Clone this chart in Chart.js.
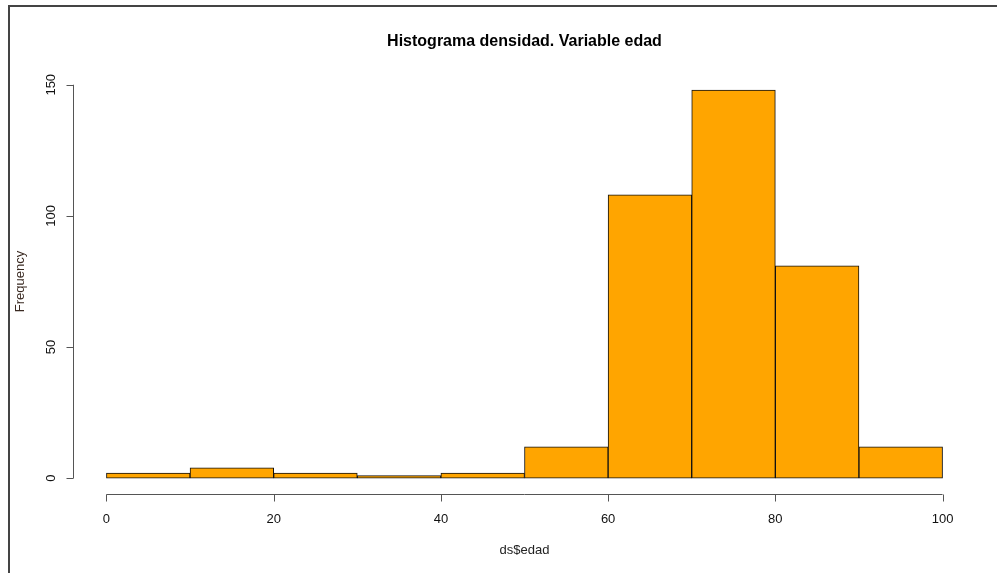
<!DOCTYPE html>
<html>
<head>
<meta charset="utf-8">
<script src="https://cdn.jsdelivr.net/npm/chart.js@4.4.0/dist/chart.umd.min.js"></script>
<style>
  html, body { margin: 0; padding: 0; background: #fff; }
  #wrap { width: 997px; height: 573px; position: relative; }
</style>
</head>
<body>
<div id="wrap"><canvas id="hist"></canvas></div>
<script>
// histogram of ds$edad, bins of width 10
const binStarts = [0, 10, 20, 30, 40, 50, 60, 70, 80, 90];
const binWidth = 10;
const frequencies = [2, 4, 2, 1, 2, 12, 108, 148, 81, 12];
const xTicks = [0, 20, 40, 60, 80, 100];
const yTicks = [0, 50, 100, 150];

const chartTitle = "Histograma densidad. Variable edad";
const xTitle = "ds$edad";
const yTitle = "Frequency";

const barData = binStarts.map((start, i) => ({ x: start + binWidth / 2, y: frequencies[i] }));

const FONT = "'Liberation Sans', Arial, sans-serif";

// R-style axes, titles and frame drawn by hand
const baseAxesPlugin = {
  id: "baseAxes",
  afterDraw(chart) {
    const ctx = chart.ctx;
    const xs = chart.scales.x;
    const ys = chart.scales.y;
    const area = chart.chartArea;

    ctx.save();

    // outer frame (left + top edges)
    ctx.strokeStyle = "#444";
    ctx.lineWidth = 2;
    ctx.beginPath();
    ctx.moveTo(9, 573);
    ctx.lineTo(9, 6);
    ctx.lineTo(997, 6);
    ctx.stroke();

    ctx.strokeStyle = "#555";
    ctx.lineWidth = 1;

    // x axis
    const axisY = Math.round(area.bottom) + 0.5;
    ctx.beginPath();
    ctx.moveTo(xs.getPixelForValue(xTicks[0]), axisY);
    ctx.lineTo(xs.getPixelForValue(xTicks[xTicks.length - 1]), axisY);
    xTicks.forEach((t) => {
      const px = Math.round(xs.getPixelForValue(t)) + 0.5;
      ctx.moveTo(px, axisY);
      ctx.lineTo(px, axisY + 7);
    });
    ctx.stroke();

    ctx.fillStyle = "#111";
    ctx.font = "13px " + FONT;
    ctx.textAlign = "center";
    ctx.textBaseline = "middle";
    xTicks.forEach((t) => {
      ctx.fillText(String(t), xs.getPixelForValue(t), 519);
    });

    // y axis
    const axisX = Math.round(area.left) + 0.5;
    ctx.beginPath();
    ctx.moveTo(axisX, ys.getPixelForValue(yTicks[0]));
    ctx.lineTo(axisX, ys.getPixelForValue(yTicks[yTicks.length - 1]));
    yTicks.forEach((t) => {
      const py = Math.round(ys.getPixelForValue(t)) + 0.5;
      ctx.moveTo(axisX, py);
      ctx.lineTo(axisX - 7, py);
    });
    ctx.stroke();

    yTicks.forEach((t) => {
      ctx.save();
      ctx.translate(51, ys.getPixelForValue(t));
      ctx.rotate(-Math.PI / 2);
      ctx.fillText(String(t), 0, 0);
      ctx.restore();
    });

    // titles
    ctx.fillStyle = "#000";
    ctx.font = "bold 16px " + FONT;
    ctx.fillText(chartTitle, (area.left + area.right) / 2, 42);

    ctx.fillStyle = "#222";
    ctx.font = "13px " + FONT;
    ctx.fillText(xTitle, (area.left + area.right) / 2, 550);

    ctx.save();
    ctx.fillStyle = "#3a2a22";
    ctx.translate(20, (area.top + area.bottom) / 2);
    ctx.rotate(-Math.PI / 2);
    ctx.fillText(yTitle, 0, 0);
    ctx.restore();

    ctx.restore();
  }
};

new Chart(document.getElementById("hist"), {
  type: "bar",
  data: {
    datasets: [
      {
        data: barData,
        backgroundColor: "#FFA500",
        borderColor: "#111",
        borderWidth: 1,
        borderSkipped: false,
        barPercentage: 1,
        categoryPercentage: 1
      }
    ]
  },
  options: {
    responsive: true,
    maintainAspectRatio: false,
    animation: false,
    layout: {
      padding: { left: 73, right: 21, top: 69, bottom: 79 }
    },
    scales: {
      x: {
        type: "linear",
        display: false,
        offset: false,
        min: -4,
        max: 104,
        // keep the hidden ticks on the bin edges so bars fill each bin
        afterBuildTicks: (scale) => {
          scale.ticks = binStarts.map((v) => ({ value: v }));
        }
      },
      y: { type: "linear", display: false, min: -6, max: 156 }
    },
    plugins: {
      legend: { display: false },
      tooltip: { enabled: false }
    }
  },
  plugins: [baseAxesPlugin]
});
</script>
</body>
</html>
